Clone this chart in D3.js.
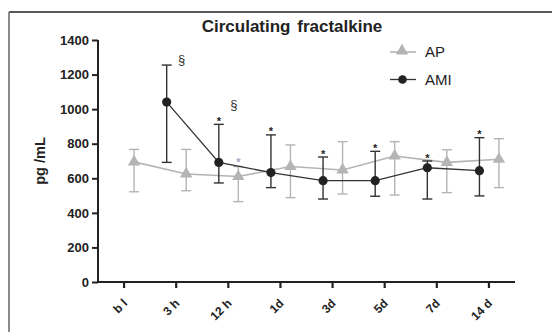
<!DOCTYPE html>
<html>
<head>
<meta charset="utf-8">
<script src="https://cdn.jsdelivr.net/npm/d3@7"></script>
<style>
  html, body { margin: 0; padding: 0; background: #fff; }
  svg { display: block; font-family: "Liberation Sans", Arial, sans-serif; }
</style>
</head>
<body>
<svg id="chart" width="552" height="332"></svg>
<script>
// Time points after admission
const timePoints = ["b l", "3 h", "12 h", "1d", "3d", "5d", "7d", "14 d"];

// AP group: mean and error limits (pg/mL)
const apMean  = [695, 625, 610, 668, 648, 729, 692, 710];
const apUpper = [767, 767, 668, 793, 812, 812, 765, 829];
const apLower = [522, 528, 465, 488, 509, 503, 517, 546];
const apStar  = [false, false, true, false, false, false, false, false];

// AMI group: mean and error limits (pg/mL); no baseline sample
const amiMean  = [null, 1041, 692, 633, 586, 586, 661, 644];
const amiUpper = [null, 1255, 912, 851, 723, 756, 700, 835];
const amiLower = [null, 692, 573, 546, 480, 496, 480, 498];
const amiStar  = [false, false, true, true, true, true, true, true];
const amiSect  = [false, true, true, false, false, false, false, false];

const yTicks = [0, 200, 400, 600, 800, 1000, 1200, 1400];

const svg = d3.select("#chart");

// outer frame
svg.append("line").attr("x1", 9).attr("x2", 560).attr("y1", 12).attr("y2", 12)
  .attr("stroke", "#222").attr("stroke-width", 1.5);
svg.append("line").attr("x1", 9).attr("x2", 9).attr("y1", 12).attr("y2", 340)
  .attr("stroke", "#666").attr("stroke-width", 1.5);

const x = d3.scaleBand().domain(timePoints).range([98, 515]);
const y = d3.scaleLinear().domain([0, 1400]).range([282, 40]);
const cx = c => x(c) + x.bandwidth() / 2;
const AMI_OFF = -9.5, AP_OFF = 10;

// title
svg.append("text").attr("x", 292).attr("y", 32).attr("text-anchor", "middle")
  .attr("font-size", 17).attr("font-weight", "bold").attr("fill", "#222")
  .attr("word-spacing", 2).text("Circulating fractalkine");

// y axis
const yAxis = svg.append("g").attr("transform", "translate(98,0)")
  .call(d3.axisLeft(y).tickValues(yTicks).tickSize(6).tickPadding(3).tickFormat(d3.format("d")));
yAxis.select(".domain").attr("stroke", "#222").attr("stroke-width", 2)
  .attr("d", "M0,40V282");
yAxis.selectAll(".tick line").attr("stroke", "#222").attr("stroke-width", 2);
yAxis.selectAll(".tick text").attr("font-size", 13).attr("font-weight", "bold")
  .attr("fill", "#222").attr("font-family", "Liberation Sans, Arial, sans-serif");

// x axis
const xAxis = svg.append("g").attr("transform", "translate(0,282)")
  .call(d3.axisBottom(x).tickSize(6).tickPadding(4));
xAxis.select(".domain").attr("stroke", "#222").attr("stroke-width", 2)
  .attr("d", "M97,0H515");
xAxis.selectAll(".tick line").attr("stroke", "#222").attr("stroke-width", 2.2);
xAxis.selectAll(".tick text")
  .attr("font-size", 12).attr("font-weight", "bold").attr("fill", "#222")
  .attr("font-family", "Liberation Sans, Arial, sans-serif")
  .attr("text-anchor", "end").attr("dy", null).attr("y", 0)
  .attr("transform", "translate(4,22) rotate(-45)");

// y axis title
svg.append("text").attr("transform", "translate(45,161) rotate(-90)")
  .attr("text-anchor", "middle").attr("font-size", 14.5).attr("font-weight", "bold")
  .attr("fill", "#222").text("pg /mL");

const apColor = "#b4b4b4", amiColor = "#222";

function series(mean, upper, lower, off, color, lineW) {
  const pts = timePoints.map((c, i) => ({ c, i, m: mean[i], u: upper[i], l: lower[i] }))
    .filter(d => d.m != null);
  const g = svg.append("g");
  // error bars
  pts.forEach(d => {
    const px = cx(d.c) + off;
    g.append("line").attr("x1", px).attr("x2", px).attr("y1", y(d.u)).attr("y2", y(d.l))
      .attr("stroke", color).attr("stroke-width", 1.4);
    [d.u, d.l].forEach(v => g.append("line").attr("x1", px - 5).attr("x2", px + 5)
      .attr("y1", y(v)).attr("y2", y(v)).attr("stroke", color).attr("stroke-width", 1.4));
  });
  // connecting line
  g.append("path").datum(pts)
    .attr("d", d3.line().x(d => cx(d.c) + off).y(d => y(d.m)))
    .attr("fill", "none").attr("stroke", color).attr("stroke-width", lineW);
  return { g, pts };
}

const ap = series(apMean, apUpper, apLower, AP_OFF, apColor, 1.6);
const ami = series(amiMean, amiUpper, amiLower, AMI_OFF, "#333", 1.3);

// markers
const tri = d3.symbol().type(d3.symbolTriangle).size(66);
ap.g.selectAll("path.m").data(ap.pts).join("path").attr("class", "m")
  .attr("d", tri)
  .attr("transform", d => `translate(${cx(d.c) + AP_OFF},${y(d.m)})`)
  .attr("fill", apColor);
ami.g.selectAll("circle").data(ami.pts).join("circle")
  .attr("cx", d => cx(d.c) + AMI_OFF).attr("cy", d => y(d.m)).attr("r", 4.6)
  .attr("fill", amiColor);

// significance marks
timePoints.forEach((c, i) => {
  if (apStar[i]) svg.append("text").attr("x", cx(c) + AP_OFF).attr("y", y(apUpper[i]) - 1)
    .attr("text-anchor", "middle").attr("font-size", 11).attr("font-weight", "bold")
    .attr("fill", "#9aa6c0").text("*");
  if (amiStar[i]) svg.append("text").attr("x", cx(c) + AMI_OFF).attr("y", y(amiUpper[i]) + 0.5)
    .attr("text-anchor", "middle").attr("font-size", 11).attr("font-weight", "bold")
    .attr("fill", "#222").text("*");
  if (amiSect[i]) svg.append("text").attr("x", cx(c) + AMI_OFF + 15)
    .attr("y", y(amiUpper[i]) - (amiStar[i] ? 15 : 1))
    .attr("text-anchor", "middle").attr("font-size", 13)
    .attr("fill", "#333").text("§");
});

// legend
const leg = svg.append("g");
leg.append("line").attr("x1", 390).attr("x2", 416).attr("y1", 52).attr("y2", 52)
  .attr("stroke", apColor).attr("stroke-width", 1.6);
leg.append("path").attr("d", tri).attr("transform", "translate(402,51)").attr("fill", apColor);
leg.append("text").attr("x", 425).attr("y", 57).attr("font-size", 15).attr("fill", "#222").text("AP");
leg.append("line").attr("x1", 390).attr("x2", 416).attr("y1", 79.5).attr("y2", 79.5)
  .attr("stroke", "#333").attr("stroke-width", 1.3);
leg.append("circle").attr("cx", 402.5).attr("cy", 79.5).attr("r", 4.3).attr("fill", amiColor);
leg.append("text").attr("x", 425).attr("y", 85).attr("font-size", 15).attr("fill", "#222").text("AMI");
</script>
</body>
</html>
